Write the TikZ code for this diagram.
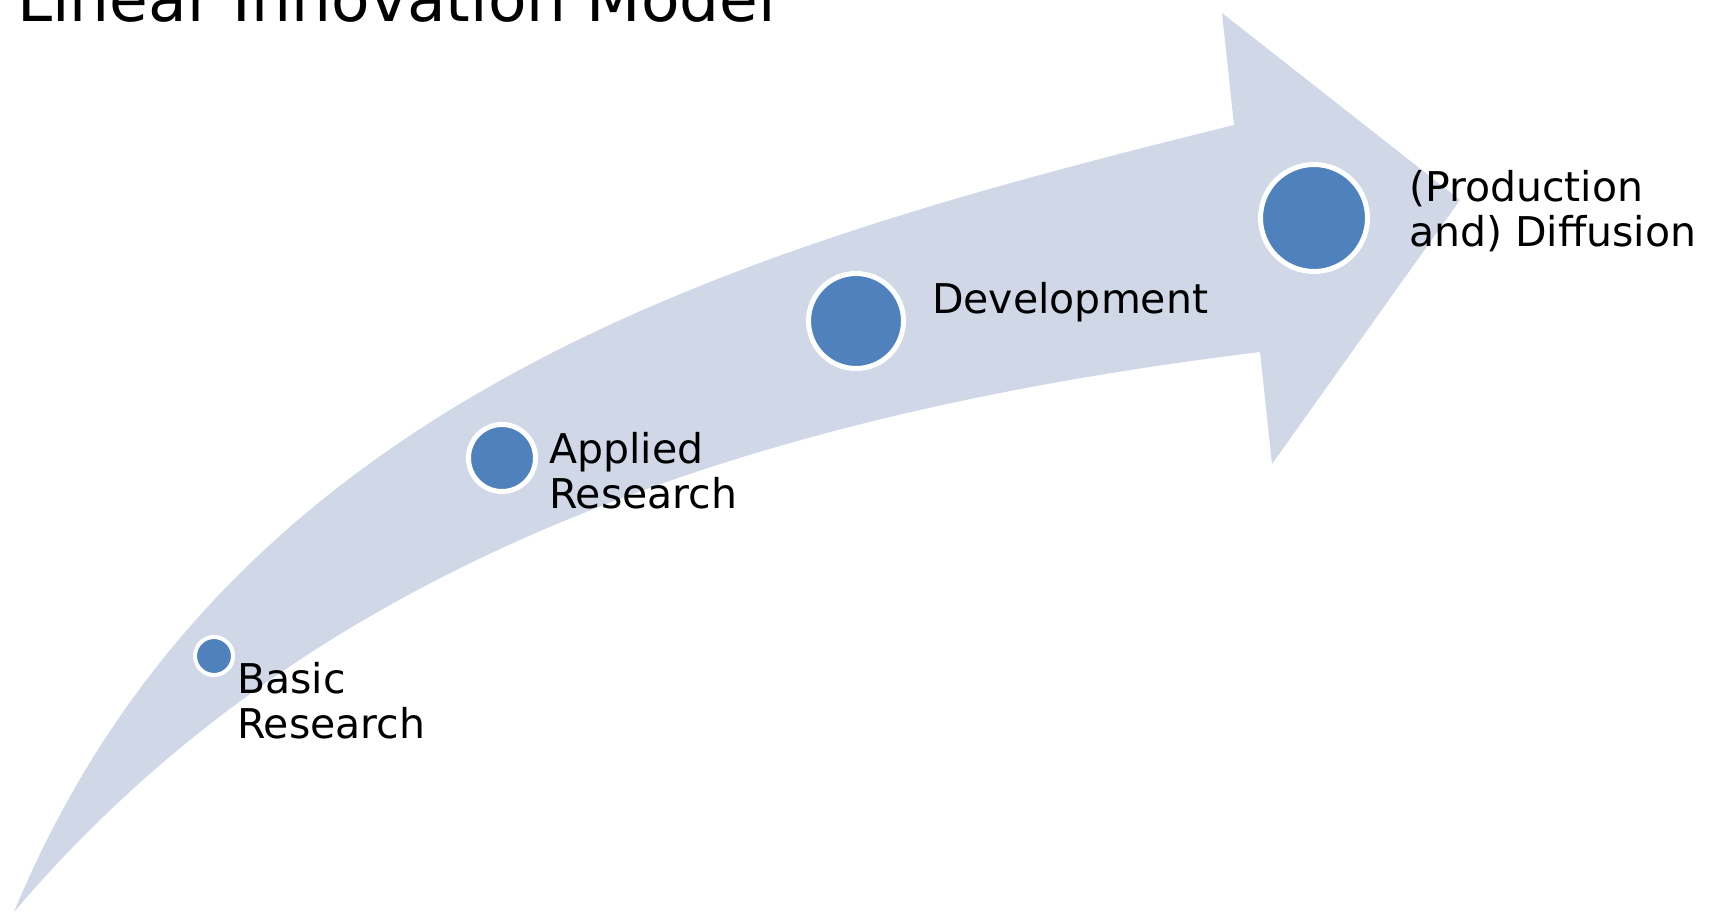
\documentclass[tikz,border=0pt]{standalone}
\usepackage{fontspec}
\setmainfont{DejaVu Sans}
\definecolor{bandgray}{HTML}{D0D8E8}
\definecolor{dotblue}{HTML}{4F81BD}
\newcommand{\picW}{1715}
\newcommand{\picH}{913}

\begin{document}
\begin{tikzpicture}[x=1pt,y=-1pt,
    stage/.style={circle,fill=dotblue,draw=white,line width=5pt,inner sep=0pt},
    stagetext/.style={anchor=base west,align=left,inner sep=0pt,font=\fontsize{41}{45}\selectfont}]

        \useasboundingbox (0,0) rectangle (\picW,\picH);
        \clip (0,0) rectangle (\picW,\picH);

        % Draw the curved band with its head
        \fill[bandgray] (14,912) .. controls (230,390) and (750,245) .. (1234,125)
            -- (1222,13) -- (1460,200) -- (1272,464) -- (1260,352)
            .. controls (720,418) and (300,575) .. (14,912) -- cycle;

        % Title, cut at the top edge
        \node[anchor=base west,inner sep=0pt,font=\fontsize{63}{70}\selectfont] (title) at (17,21) {Linear Innovation Model};

        % Stages along the band
        \node[stage,line width=4pt,minimum size=38pt] (basic) at (214,656) {};
        \node[stage,minimum size=67pt] (applied) at (502,458) {};
        \node[stage,minimum size=95pt] (devel) at (856,321) {};
        \node[stage,minimum size=107pt] (diffus) at (1314,218) {};

        % Stage labels (base is the last line)
        \node[stagetext] (basictext) at (237,738) {Basic\\Research};
        \node[stagetext] (appliedtext) at (549,508) {Applied\\Research};
        \node[stagetext] (develtext) at (932,313) {Development};
        \node[stagetext] (diffustext) at (1409,246) {(Production\\and) Diffusion};
    \end{tikzpicture}
\end{document}
